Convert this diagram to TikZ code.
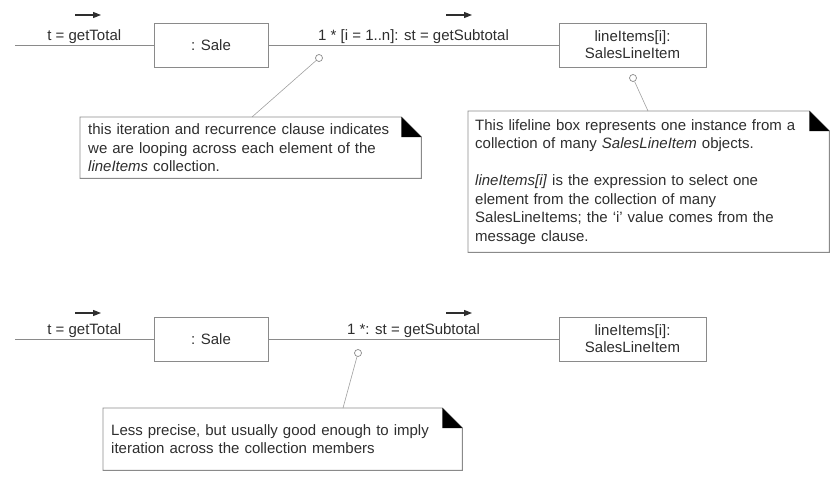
\documentclass[tikz,border=0pt]{standalone}
\usepackage{fontspec}
\setmainfont{Liberation Sans}
\usetikzlibrary{arrows.meta}
\definecolor{edge}{HTML}{8A8A8A}
\definecolor{linkc}{HTML}{A0A0A0}
\definecolor{txt}{HTML}{2E2E2E}

\begin{document}
\begin{tikzpicture}[x=1pt, y=-1pt,
    every node/.style={text=txt, font=\fontsize{15}{18.5}\selectfont},
    obj/.style={draw=edge, line width=0.9pt, inner sep=0pt, minimum height=44pt, align=center, font=\fontsize{15}{17}\selectfont},
    msg/.style={draw=edge, line width=0.9pt},
    lbl/.style={above=0pt, inner sep=1pt},
    link/.style={draw=linkc, line width=0.6pt},
    knob/.style={circle, draw=edge, fill=white, line width=0.7pt, minimum size=7pt, inner sep=0pt},
    note/.style={anchor=north west, align=left, inner ysep=0pt},
    dir/.style={-{Triangle[length=8pt, width=6pt]}, line width=1.1pt, draw=txt}]
    \useasboundingbox (0,0) rectangle (837,482);

    % with the iteration clause
    \coordinate (startA) at (15,45);
    \node[obj, minimum width=114pt] (saleA) at (211,45) {: Sale};
    \node[obj, minimum width=147pt] (itemsA) at (632.5,45) {lineItems[i]:\\SalesLineItem};
    \draw[msg] (startA) -- node[lbl] {t = getTotal} (saleA);
    \draw[msg] (saleA) -- node[lbl] {1 * [i = 1..n]: st = getSubtotal} (itemsA);
    \node[knob] (knobA) at (319,58) {};
    \node[knob] (knobB) at (633,78) {};
    \node[note, minimum width=341pt, minimum height=61pt, inner xsep=8pt, text width=325pt] (noteA) at (80,117)
        {this iteration and recurrence clause indicates\\we are looping across each element of the\\\textit{lineItems} collection.};
    \node[note, minimum width=361pt, minimum height=141pt, inner xsep=7pt, text width=347pt] (noteB) at (468,111)
        {This lifeline box represents one instance from a\\collection of many \textit{SalesLineItem} objects.\\[18.5pt]
         \textit{lineItems[i]} is the expression to select one\\element from the collection of many\\SalesLineItems; the ‘i’ value comes from the\\message clause.};
    \draw[link] (knobA) -- ([xshift=172pt]noteA.north west);
    \draw[link] (knobB) -- ([xshift=180pt]noteB.north west);

    % without it
    \coordinate (startB) at (15,339);
    \node[obj, minimum width=114pt] (saleB) at (211,339) {: Sale};
    \node[obj, minimum width=147pt] (itemsB) at (632.5,339) {lineItems[i]:\\SalesLineItem};
    \draw[msg] (startB) -- node[lbl] {t = getTotal} (saleB);
    \draw[msg] (saleB) -- node[lbl] {1 *: st = getSubtotal} (itemsB);
    \node[knob] (knobC) at (358,353) {};
    \node[note, minimum width=359pt, minimum height=62pt, inner xsep=8pt, text width=343pt] (noteC) at (103,408)
        {Less precise, but usually good enough to imply\\iteration across the collection members};
    \draw[link] (knobC) -- ([xshift=240pt]noteC.north west);

    % note outlines with the folded corner
    \foreach \n in {noteA,noteB,noteC} {
        \draw[edge, line width=0.9pt] (\n.north west) -- ([xshift=-20pt]\n.north east) -- ([yshift=-20pt]\n.north east)
            -- (\n.south east) -- (\n.south west) -- cycle;
        \fill[black] ([xshift=-20pt]\n.north east) -- ([xshift=-20pt, yshift=-20pt]\n.north east) -- ([yshift=-20pt]\n.north east) -- cycle;
    }

    % direction of the messages
    \foreach \x/\y in {75/15, 446/15, 75/313, 446/313} {
        \draw[dir] (\x,\y) -- ++(26,0);
    }
\end{tikzpicture}
\end{document}
